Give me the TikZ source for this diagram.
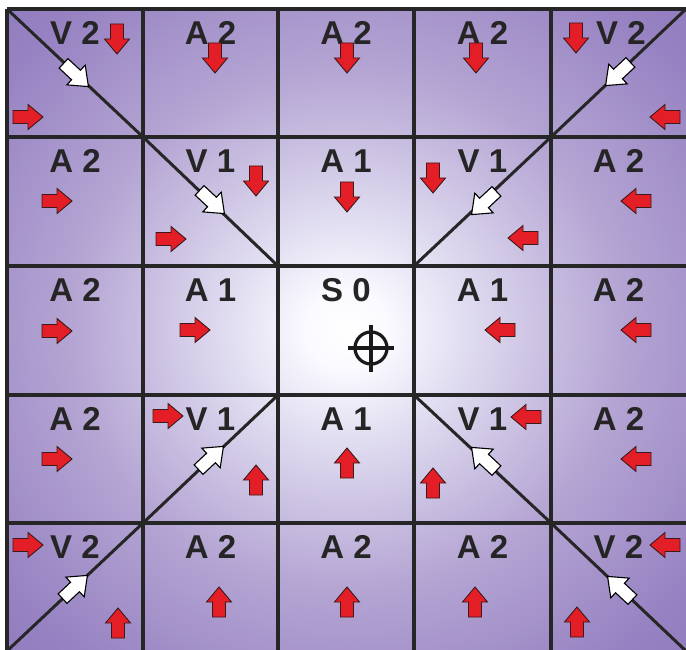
\documentclass[tikz,border=0pt]{standalone}
\usepackage{fontspec}
\setmainfont{Liberation Sans}
\definecolor{gridc}{HTML}{262626}
\definecolor{labc}{HTML}{252525}
\definecolor{arrred}{HTML}{E41E26}
\definecolor{arrline}{HTML}{3A1A1A}
\pgfdeclareradialshading{bgshade}{\pgfpoint{0bp}{0bp}}{%
 rgb(0bp)=(1,1,1);
 rgb(3bp)=(0.98,0.98,1);
 rgb(10bp)=(0.86,0.84,0.93);
 rgb(20bp)=(0.71,0.65,0.83);
 rgb(32bp)=(0.59,0.51,0.76);
 rgb(50bp)=(0.49,0.40,0.69);
 rgb(72bp)=(0.44,0.34,0.65)}
\begin{document}
\begin{tikzpicture}[x=1pt,y=-1pt,
  gridl/.style={line width=3.6pt, draw=gridc},
  diag/.style={line width=3pt, draw=gridc},
  lab/.style={font=\bfseries\fontsize{33}{33}\selectfont, text=labc, inner sep=0pt},
  redarr/.pic={\filldraw[fill=arrred, draw=arrline, line width=0.9pt]
     (-15,-6.5) -- (0,-6.5) -- (0,-12.5) -- (15,0) -- (0,12.5) -- (0,6.5) -- (-15,6.5) -- cycle;},
  whtarr/.pic={\filldraw[fill=white, draw=black, line width=1.1pt]
     (-17,-6.5) -- (0,-6.5) -- (0,-13.5) -- (17,0) -- (0,13.5) -- (0,6.5) -- (-17,6.5) -- cycle;}
]
\useasboundingbox (0,0) rectangle (686,650);
% background
\fill[shading=bgshade] (7,9) rectangle (686,650);
% grid
\foreach \x in {7,143,278,414,551,688}{\draw[gridl] (\x,9) -- (\x,652);}
\foreach \y in {9,137,266,395,523,652}{\draw[gridl] (7,\y) -- (688,\y);}
% diagonals
\draw[diag] (7,9) -- (143,137) -- (278,266);
\draw[diag] (686,9) -- (551,137) -- (414,266);
\draw[diag] (278,395) -- (143,523) -- (7,651);
\draw[diag] (414,395) -- (551,523) -- (686,651);
% labels
\node[lab] (l00) at (75,33) {V 2};
\node[lab] (l01) at (210.5,33) {A 2};
\node[lab] (l02) at (346,33) {A 2};
\node[lab] (l03) at (482.5,33) {A 2};
\node[lab] (l04) at (621,33) {V 2};
\node[lab] (l10) at (75,161) {A 2};
\node[lab] (l11) at (210.5,161) {V 1};
\node[lab] (l12) at (346,161) {A 1};
\node[lab] (l13) at (482.5,161) {V 1};
\node[lab] (l14) at (618.5,161) {A 2};
\node[lab] (l20) at (75,290) {A 2};
\node[lab] (l21) at (210.5,290) {A 1};
\node[lab] (l22) at (346,290) {S 0};
\node[lab] (l23) at (482.5,290) {A 1};
\node[lab] (l24) at (618.5,290) {A 2};
\node[lab] (l30) at (75,419) {A 2};
\node[lab] (l31) at (210.5,419) {V 1};
\node[lab] (l32) at (346,419) {A 1};
\node[lab] (l33) at (482.5,419) {V 1};
\node[lab] (l34) at (618.5,419) {A 2};
\node[lab] (l40) at (75,547) {V 2};
\node[lab] (l41) at (210.5,547) {A 2};
\node[lab] (l42) at (346,547) {A 2};
\node[lab] (l43) at (482.5,547) {A 2};
\node[lab] (l44) at (618.5,547) {V 2};
% red arrows: row 0
\pic[rotate=-90] at (117,39) {redarr};
\pic at (28,117) {redarr};
\pic[rotate=-90] at (215,58) {redarr};
\pic[rotate=-90] at (347,58) {redarr};
\pic[rotate=-90] at (476,58) {redarr};
\pic[rotate=-90] at (576,38) {redarr};
\pic[rotate=180] at (665,117) {redarr};
% row 1
\pic at (57,201) {redarr};
\pic[rotate=-90] at (256,181) {redarr};
\pic at (171,239) {redarr};
\pic[rotate=-90] at (347,197) {redarr};
\pic[rotate=-90] at (433,178) {redarr};
\pic[rotate=180] at (523,238) {redarr};
\pic[rotate=180] at (636,201) {redarr};
% row 2
\pic at (57,331) {redarr};
\pic at (195,330) {redarr};
\pic[rotate=180] at (500,330) {redarr};
\pic[rotate=180] at (636,330) {redarr};
% row 3
\pic at (57,459) {redarr};
\pic at (168,416) {redarr};
\pic[rotate=90] at (256,480) {redarr};
\pic[rotate=90] at (347,463) {redarr};
\pic[rotate=180] at (526,417) {redarr};
\pic[rotate=90] at (433,483) {redarr};
\pic[rotate=180] at (636,459) {redarr};
% row 4
\pic at (28,545) {redarr};
\pic[rotate=90] at (118,623) {redarr};
\pic[rotate=90] at (219,602) {redarr};
\pic[rotate=90] at (347,602) {redarr};
\pic[rotate=90] at (475,602) {redarr};
\pic[rotate=180] at (665,545) {redarr};
\pic[rotate=90] at (577,622) {redarr};
% white arrows
\pic[rotate=-43] at (76,75) {whtarr};
\pic[rotate=-137] at (618,74) {whtarr};
\pic[rotate=-43] at (212,202) {whtarr};
\pic[rotate=-137] at (484,203) {whtarr};
\pic[rotate=43] at (211,458) {whtarr};
\pic[rotate=137] at (484,459) {whtarr};
\pic[rotate=43] at (75,587) {whtarr};
\pic[rotate=137] at (620,588) {whtarr};
% crosshair
\draw[line width=3.2pt, draw=black!90] (371,348) circle[radius=16];
\draw[line width=3.2pt, draw=black!90] (348,348) -- (394,348) (371,325) -- (371,372);
\end{tikzpicture}
\end{document}
